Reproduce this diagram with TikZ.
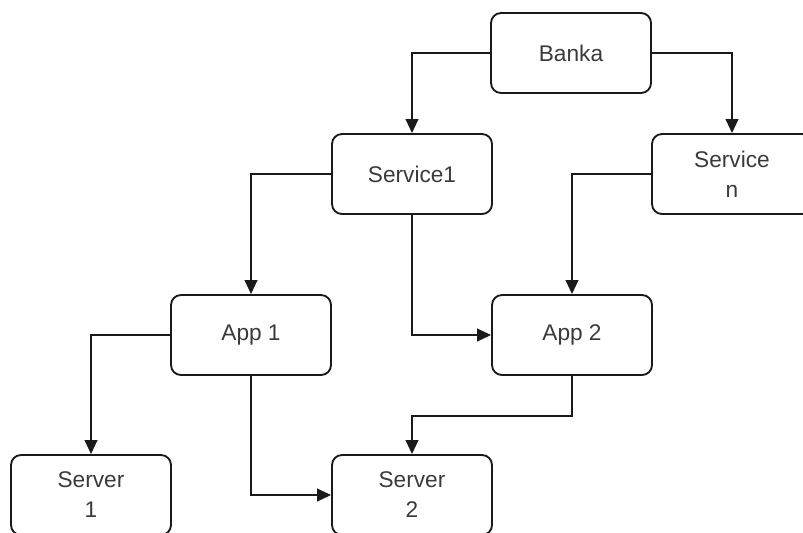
\documentclass[tikz,border=0pt]{standalone}
\usepackage{fontspec}
\setmainfont{Liberation Sans}
\usepackage{xcolor}
\definecolor{box-line}{HTML}{1A1A1A}
\definecolor{box-text}{HTML}{3A3A3A}
\usetikzlibrary{arrows.meta}

\tikzset{
    unit/.style={draw=box-line, line width=1.4pt, rounded corners=7.5pt,
                 minimum width=120pt, minimum height=60pt, align=center,
                 text=box-text, font=\fontsize{17}{22.5}\selectfont},
    link/.style={draw=box-line, line width=1.4pt,
                 -{Triangle[length=10.5pt, width=9.5pt]}}
}

\begin{document}
\begin{tikzpicture}[x=0.75pt, y=-0.75pt]

    % Canvas
    \useasboundingbox (0, 0) rectangle (803, 532);

    % Boxes
    \node[unit] (banka)    at (571, 53)  {Banka};
    \node[unit] (service1) at (412, 174) {Service1};
    \node[unit] (servicen) at (732, 174) {Service\\n};
    \node[unit] (app1)     at (251, 335) {App 1};
    \node[unit] (app2)     at (572, 335) {App 2};
    \node[unit] (server1)  at (91, 495)  {Server\\1};
    \node[unit] (server2)  at (412, 495) {Server\\2};

    % Links
    \draw[link] (banka.west) -| (service1.north);
    \draw[link] (banka.east) -| (servicen.north);
    \draw[link] (service1.west) -| (app1.north);
    \draw[link] (service1.south) |- (app2.west);
    \draw[link] (servicen.west) -| (app2.north);
    \draw[link] (app1.west) -| (server1.north);
    \draw[link] (app1.south) |- (server2.west);
    \draw[link] (app2.south) -- ++(0, 40) -| (server2.north);

\end{tikzpicture}
\end{document}
